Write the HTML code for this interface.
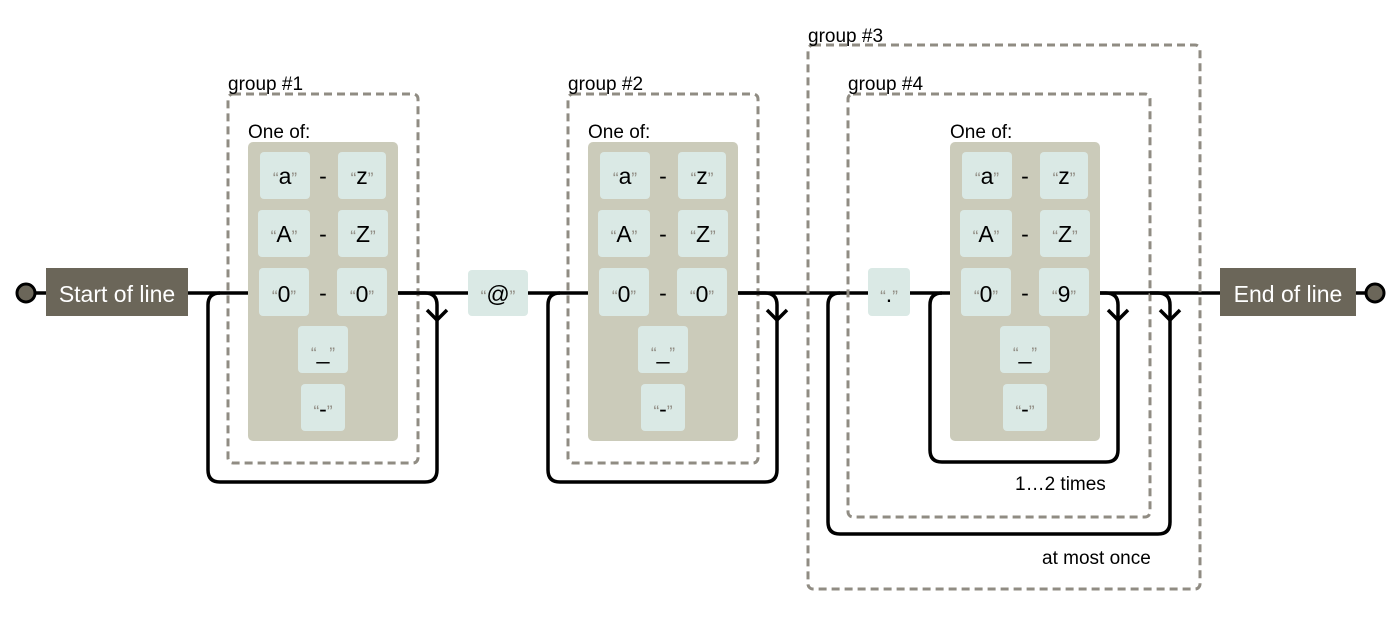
<!DOCTYPE html>
<html><head><meta charset="utf-8"><style>
html,body{margin:0;padding:0;background:#fff}
svg{display:block;font-family:"Liberation Sans",Arial,sans-serif}
.g{fill:none;stroke:#908c83;stroke-width:3;stroke-dasharray:8,5}
.p{fill:none;stroke:#000;stroke-width:3.5}
.cc{fill:#cbcbba}
.lit{fill:#dae9e5}
.lbl{font-size:19px;fill:#000}
.t{font-size:23px;fill:#000;text-anchor:middle}
.q{fill:#908c83;font-size:17px}
</style></head><body>
<svg width="1398" height="619" viewBox="0 0 1398 619" xmlns="http://www.w3.org/2000/svg">
<defs>
<g id="cls">
  <rect class="cc" x="0" y="0" width="150" height="299" rx="5"/>
  <rect class="lit" x="12" y="10" width="50" height="47" rx="4"/>
  <rect class="lit" x="90" y="10" width="48" height="47" rx="4"/>
  <rect class="lit" x="10" y="68" width="52" height="47" rx="4"/>
  <rect class="lit" x="90" y="68" width="50" height="47" rx="4"/>
  <rect class="lit" x="11" y="126" width="50" height="48" rx="4"/>
  <rect class="lit" x="89" y="126" width="50" height="48" rx="4"/>
  <rect class="lit" x="50" y="184" width="50" height="47" rx="4"/>
  <rect class="lit" x="53" y="242" width="44" height="47" rx="4"/>
  <text class="t" x="37" y="42"><tspan class="q">“</tspan>a<tspan class="q">”</tspan></text>
  <text class="t" x="75" y="42">-</text>
  <text class="t" x="114" y="42"><tspan class="q">“</tspan>z<tspan class="q">”</tspan></text>
  <text class="t" x="36" y="100"><tspan class="q">“</tspan>A<tspan class="q">”</tspan></text>
  <text class="t" x="75" y="100">-</text>
  <text class="t" x="115" y="100"><tspan class="q">“</tspan>Z<tspan class="q">”</tspan></text>
  <text class="t" x="75" y="159">-</text>
  <text class="t" x="75" y="217"><tspan class="q">“</tspan>_<tspan class="q">”</tspan></text>
  <text class="t" x="75" y="275"><tspan class="q">“</tspan>-<tspan class="q">”</tspan></text>
</g>
</defs>

<path class="p" d="M35 293H46M188 293H1220M1356 293H1366"/>
<circle cx="26" cy="293" r="9" fill="#6b6659" stroke="#000" stroke-width="3"/>
<circle cx="1375" cy="293" r="9" fill="#6b6659" stroke="#000" stroke-width="3"/>
<rect x="46" y="268" width="142" height="48" fill="#6b6659"/>
<text x="117" y="302" fill="#fff" font-size="23" text-anchor="middle">Start of line</text>
<rect x="1220" y="268" width="136" height="48" fill="#6b6659"/>
<text x="1288" y="302" fill="#fff" font-size="23" text-anchor="middle">End of line</text>

<rect class="g" x="228" y="94" width="190" height="369" rx="5"/>
<text class="lbl" x="228" y="90">group #1</text>
<text class="lbl" x="248" y="138">One of:</text>
<g transform="translate(248,142)"><use href="#cls"/>
<text class="t" x="36" y="160"><tspan class="q">“</tspan>0<tspan class="q">”</tspan></text>
<text class="t" x="114" y="160"><tspan class="q">“</tspan>0<tspan class="q">”</tspan></text></g>
<path class="p" d="M398 293H425Q437 293 437 305V470Q437 482 425 482H220Q208 482 208 470V305Q208 293 220 293"/>
<path class="p" d="M427 310L437 320L447 310"/>

<rect class="lit" x="468" y="270" width="60" height="46" rx="4"/>
<text class="t" x="498" y="302"><tspan class="q">“</tspan>@<tspan class="q">”</tspan></text>

<rect class="g" x="568" y="94" width="190" height="369" rx="5"/>
<text class="lbl" x="568" y="90">group #2</text>
<text class="lbl" x="588" y="138">One of:</text>
<g transform="translate(588,142)"><use href="#cls"/>
<text class="t" x="36" y="160"><tspan class="q">“</tspan>0<tspan class="q">”</tspan></text>
<text class="t" x="114" y="160"><tspan class="q">“</tspan>0<tspan class="q">”</tspan></text></g>
<path class="p" d="M738 293H765Q777 293 777 305V470Q777 482 765 482H560Q548 482 548 470V305Q548 293 560 293"/>
<path class="p" d="M767 310L777 320L787 310"/>

<rect class="g" x="808" y="45" width="392" height="544" rx="5"/>
<text class="lbl" x="808" y="42">group #3</text>
<rect class="g" x="848" y="94" width="302" height="423" rx="5"/>
<text class="lbl" x="848" y="90">group #4</text>
<rect class="lit" x="868" y="268" width="42" height="48" rx="4"/>
<text class="t" x="889" y="302"><tspan class="q">“</tspan>.<tspan class="q">”</tspan></text>
<text class="lbl" x="950" y="138">One of:</text>
<g transform="translate(950,142)"><use href="#cls"/>
<text class="t" x="36" y="160"><tspan class="q">“</tspan>0<tspan class="q">”</tspan></text>
<text class="t" x="114" y="160"><tspan class="q">“</tspan>9<tspan class="q">”</tspan></text></g>
<path class="p" d="M1100 293H1106Q1118 293 1118 305V450Q1118 462 1106 462H942Q930 462 930 450V305Q930 293 942 293"/>
<path class="p" d="M1108 310L1118 320L1128 310"/>
<path class="p" d="M1150 293H1158Q1170 293 1170 305V522Q1170 534 1158 534H840Q828 534 828 522V305Q828 293 840 293"/>
<path class="p" d="M1160 310L1170 320L1180 310"/>
<text class="lbl" x="1015" y="490">1…2 times</text>
<text class="lbl" x="1042" y="564">at most once</text>
</svg>
</body></html>
